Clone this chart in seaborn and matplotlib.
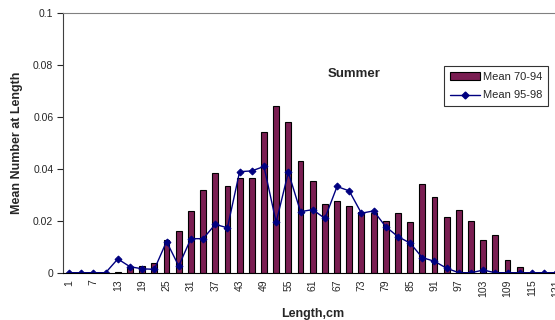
import pandas as pd
import matplotlib
matplotlib.use("Agg")
import matplotlib.pyplot as plt
import seaborn as sns
from matplotlib.patches import Patch
from matplotlib.lines import Line2D

# length classes (cm), every 3 cm
lengths = list(range(1, 122, 3))

mean_70_94 = [0, 0, 0, 0, 0.0003, 0.0023, 0.0027, 0.0036, 0.0126, 0.0161,
              0.0236, 0.0320, 0.0382, 0.0335, 0.0366, 0.0366, 0.0541, 0.0640,
              0.0581, 0.0430, 0.0355, 0.0263, 0.0278, 0.0257, 0.0233, 0.0229,
              0.0199, 0.0229, 0.0197, 0.0342, 0.0290, 0.0216, 0.0243, 0.0199,
              0.0126, 0.0145, 0.0049, 0.0022, 0, 0, 0]

mean_95_98 = [0, 0, 0, 0, 0.0053, 0.0023, 0.0015, 0.0013, 0.0120, 0.0026,
              0.0131, 0.0131, 0.0186, 0.0173, 0.0389, 0.0392, 0.0409, 0.0194,
              0.0387, 0.0235, 0.0243, 0.0209, 0.0332, 0.0315, 0.0229, 0.0238,
              0.0177, 0.0139, 0.0114, 0.0058, 0.0044, 0.0017, 0, 0,
              0.0010, 0, 0, 0, 0, 0, 0]

y_ticks = [0, 0.02, 0.04, 0.06, 0.08, 0.1]
y_tick_labels = ["0", "0.02", "0.04", "0.06", "0.08", "0.1"]

bar_color = "#7A1E52"
line_color = "#000080"

df = pd.DataFrame({
    "length": [str(v) for v in lengths],
    "mean_70_94": mean_70_94,
    "mean_95_98": mean_95_98,
})
order = df["length"].tolist()

sns.set_style("white")
plt.rcParams["font.family"] = ["Liberation Sans", "DejaVu Sans"]

fig = plt.figure(figsize=(5.55, 3.2), dpi=100)
n = len(lengths)
left = 63 / 555
width = n * 12.18 / 555
ax = fig.add_axes([left, (320 - 272.7) / 320, width, 259.7 / 320])

sns.barplot(data=df, x="length", y="mean_70_94", order=order, color=bar_color,
            edgecolor="black", linewidth=0.8, width=0.48, saturation=1, ax=ax)
sns.pointplot(data=df, x="length", y="mean_95_98", order=order, color=line_color,
              markers="D", markersize=3.5, linewidth=1.0, ax=ax)

ax.set_xlim(-0.5, n - 0.5)
ax.set_ylim(0, 0.1)
ax.set_yticks(y_ticks)
ax.set_yticklabels(y_tick_labels, fontsize=7.5)

label_idx = list(range(0, n, 2))
ax.set_xticks(label_idx)
ax.set_xticklabels([order[i] for i in label_idx], rotation=90, fontsize=7.5)
ax.set_xticks([i - 0.5 for i in range(n + 1)], minor=True)
ax.tick_params(axis="x", which="major", length=0, pad=5)
ax.tick_params(axis="x", which="minor", length=5, direction="inout", width=0.8)
ax.tick_params(axis="y", which="major", length=4, direction="out", width=0.8,
               left=True, pad=3)

ax.spines["right"].set_visible(False)
ax.spines["top"].set_color("#808080")
ax.spines["left"].set_color("#404040")
ax.spines["bottom"].set_color("black")

ax.set_xlabel("Length,cm", fontsize=9, fontweight="bold", labelpad=8)
ax.set_ylabel("Mean Number at Length", fontsize=9, fontweight="bold", labelpad=7)

fig.text(354 / 555, 1 - 74 / 320, "Summer", fontsize=9.5, fontweight="bold",
         ha="center", va="center")

handles = [
    Patch(facecolor=bar_color, edgecolor="black", linewidth=0.8),
    Line2D([0], [0], color=line_color, marker="D", markersize=3.5, linewidth=1.0),
]
leg = fig.legend(handles, ["Mean 70-94", "Mean 95-98"], loc="upper left",
                 bbox_to_anchor=(444 / 555, 1 - 66 / 320), fontsize=8,
                 frameon=True, fancybox=False, edgecolor="black",
                 handlelength=2.7, handletextpad=0.3, borderpad=0.5,
                 labelspacing=0.8, borderaxespad=0)
leg.get_frame().set_linewidth(0.8)

fig.savefig("out.png", dpi=100)
